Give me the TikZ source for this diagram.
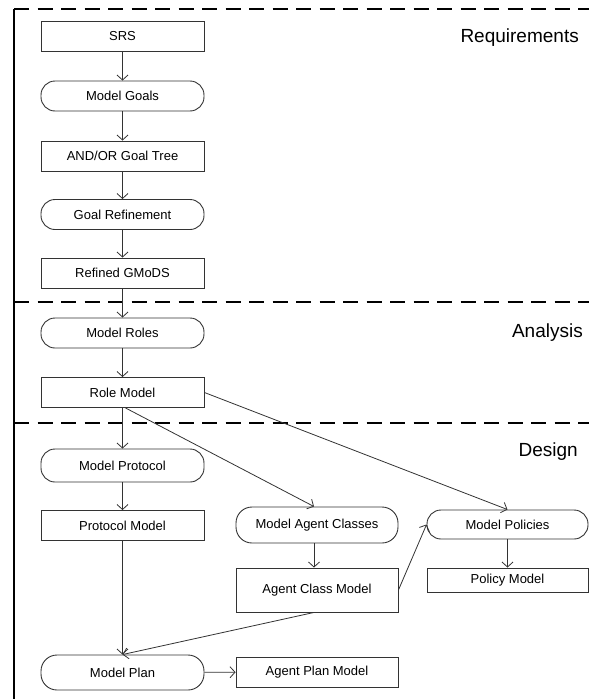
\documentclass[tikz,border=0pt]{standalone}
\usepackage{fontspec}
\setmainfont{Liberation Sans}
\usetikzlibrary{arrows.meta,calc}

\tikzset{
  box/.style={draw=black!80, line width=0.9pt, minimum width=163pt, minimum height=30pt,
              inner sep=0pt, font=\fontsize{13}{15}\selectfont, align=center},
  act/.style={box, rounded corners=14pt},
  flow/.style={draw=black!80, line width=0.8pt, -{Straight Barb[length=5pt,width=11pt]}},
  phase/.style={draw=black, line width=1.6pt, dash pattern=on 15pt off 8.5pt},
  phasename/.style={font=\fontsize{19}{22}\selectfont, inner sep=0pt}
}

\begin{document}
\begin{tikzpicture}[x=1pt,y=-1pt]
\useasboundingbox (0,0) rectangle (589,699);

% phase frame
\coordinate (tl) at (14,9);
\coordinate (bl) at (14,699);
\coordinate (tr) at (589,9);
\coordinate (ar) at (589,302);
\coordinate (al) at (14,302);
\coordinate (dr) at (589,423);
\coordinate (dl) at (14,423);
\draw[phase] (tl) -- (tr);
\draw[phase] (al) -- (ar);
\draw[phase] (dl) -- (dr);
\draw[line width=2pt] (tl) -- (bl);

\node[phasename, anchor=base east] (req) at (579,42) {Requirements};
\node[phasename, anchor=base east] (ana) at (583,337) {Analysis};
\node[phasename, anchor=base east] (des) at (578,456) {Design};

% requirements
\node[box] (srs)    at (122.5,36.5) {SRS};
\node[act] (mgoals) at (122.5,96)   {Model Goals};
\node[box] (tree)   at (122.5,156)  {AND/OR Goal Tree};
\node[act] (gref)   at (122.5,214.5){Goal Refinement};
\node[box] (gmods)  at (122.5,273)  {Refined GMoDS};

% analysis
\node[act] (mroles) at (122.5,333)  {Model Roles};
\node[box] (rolem)  at (122.5,392.5){Role Model};

% design
\node[act, minimum height=33pt] (mprot) at (122.5,465.5) {Model Protocol};
\node[box] (protm)  at (122.5,525.5) {Protocol Model};
\node[act, minimum height=35pt, rounded corners=16pt] (mplan) at (122.5,672.5) {Model Plan};
\node[act, minimum width=162pt, minimum height=36pt, rounded corners=16pt] (mac) at (317,525) {Model Agent Classes};
\node[box, minimum width=162pt, minimum height=44pt] (acm) at (317,590) {Agent Class Model};
\node[box, minimum width=162pt] (apm) at (317,672) {Agent Plan Model};
\node[act, minimum width=161pt, minimum height=29pt] (mpol) at (507.5,524.5) {Model Policies};
\node[box, minimum width=161pt, minimum height=24pt] (polm) at (507.5,580) {Policy Model};

% flows
\draw[flow] (srs) -- (mgoals);
\draw[flow] (mgoals) -- (tree);
\draw[flow] (tree) -- (gref);
\draw[flow] (gref) -- (gmods);
\draw[flow] (gmods) -- (mroles);
\draw[flow] (mroles) -- (rolem);
\draw[flow] (rolem) -- (mprot);
\draw[flow] ($(rolem.south)+(3,0)$) -- ($(mac.north)+(-3,0)$);
\draw[flow] (rolem.east) -- (mpol.north);
\draw[flow] (mprot) -- (protm);
\draw[flow] (protm) -- (mplan);
\draw[flow] ($(mac.south)+(-3,0)$) -- ($(acm.north)+(-3,0)$);
\draw[flow] ($(acm.south)+(-3,0)$) -- (mplan.north);
\draw[flow] (acm.east) -- (mpol.west);
\draw[flow] (mpol) -- (polm);
\draw[flow] (mplan) -- (apm);
\end{tikzpicture}
\end{document}
